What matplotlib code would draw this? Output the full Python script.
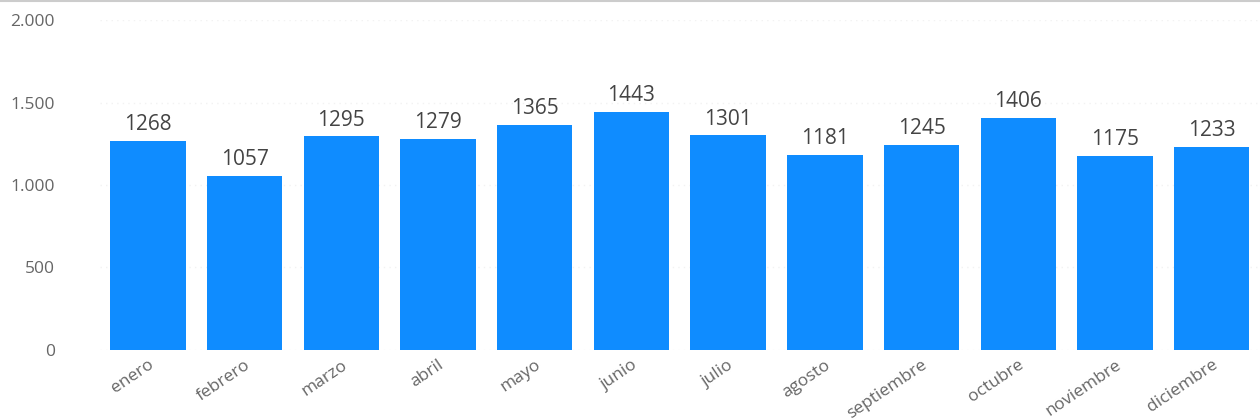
import matplotlib.pyplot as plt
from matplotlib.ticker import FuncFormatter

# data
months = ["enero", "febrero", "marzo", "abril", "mayo", "junio", "julio",
          "agosto", "septiembre", "octubre", "noviembre", "diciembre"]
values = [1268, 1057, 1295, 1279, 1365, 1443, 1301, 1181, 1245, 1406, 1175, 1233]
yticks = [0, 500, 1000, 1500, 2000]

plt.rcParams["font.family"] = ["Open Sans", "DejaVu Sans"]

fig = plt.figure(figsize=(12.6, 4.2), dpi=100)
ax = fig.add_axes([0.079, 0.167, 0.921, 0.785])

x = range(len(months))
ax.bar(x, values, width=0.78, color="#0F8CFF", zorder=2)

# value labels above bars
for xi, v in zip(x, values):
    ax.text(xi, v + 35, str(v), ha="center", va="bottom",
            fontsize=15, color="#444444")

ax.set_xlim(-0.5, len(months) - 0.5)
ax.set_ylim(0, 2000)
ax.set_yticks(yticks)
ax.yaxis.set_major_formatter(FuncFormatter(lambda v, p: f"{int(v):,}".replace(",", ".")))

ax.set_xticks(list(x))
ax.set_xticklabels(months, rotation=34, ha="right", rotation_mode="anchor",
                   fontsize=12.5, color="#666666")
ax.tick_params(axis="y", labelsize=12.5, labelcolor="#666666", length=0, pad=32)
ax.tick_params(axis="x", length=0, pad=5)

# faint dotted grid
ax.grid(axis="y", color="#f2f2f2", linestyle=(0, (1, 3)), linewidth=1, zorder=0)
for side in ["top", "right", "left", "bottom"]:
    ax.spines[side].set_visible(False)

# thin border line at the very top
fig.add_artist(plt.Line2D([0, 1], [0.998, 0.998], color="#cccccc", linewidth=1.5))

fig.savefig("out.png", dpi=100)
